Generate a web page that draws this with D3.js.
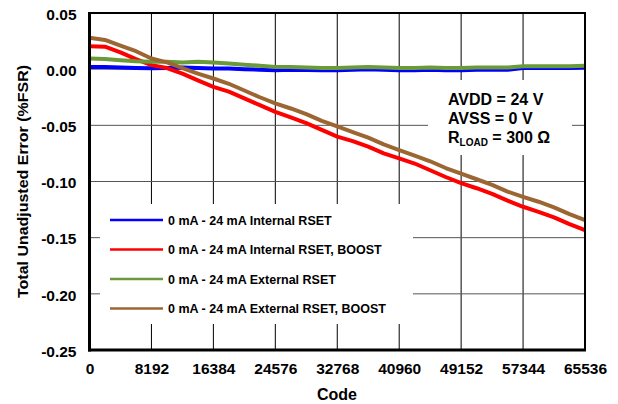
<!DOCTYPE html>
<html><head><meta charset="utf-8">
<script src="https://cdn.jsdelivr.net/npm/d3@7"></script>
<style>body{margin:0;background:#fff}svg text{font-family:"Liberation Sans",Arial,sans-serif;font-weight:bold;fill:#000}</style>
</head><body><svg id="c" width="618" height="404"></svg>
<script>
const codes = d3.range(0, 65537, 2048);
const xTicks = [0, 8192, 16384, 24576, 32768, 40960, 49152, 57344, 65536];
const yTicks = [0.05, 0.00, -0.05, -0.10, -0.15, -0.20, -0.25];
const seriesNames = ["0 mA - 24 mA Internal RSET", "0 mA - 24 mA Internal RSET, BOOST", "0 mA - 24 mA External RSET", "0 mA - 24 mA External RSET, BOOST"];
const seriesColors = ["#0000ff", "#ff0000", "#6a9a3a", "#9c6633"];
const internal = [0.002,0.002,0.0015,0.001,0.0008,0.001,0.0015,0.001,0.0005,0.0005,0.0,-0.0005,-0.001,-0.0005,-0.0008,-0.001,-0.001,-0.0005,0.0,-0.0005,-0.001,-0.001,-0.0005,-0.001,-0.001,-0.0005,-0.0005,-0.0005,0.001,0.001,0.001,0.001,0.0015];
const internalBoost = [0.0205,0.020,0.015,0.009,0.0036,0.001,-0.004,-0.010,-0.0157,-0.020,-0.026,-0.032,-0.038,-0.043,-0.048,-0.054,-0.060,-0.064,-0.069,-0.075,-0.0795,-0.084,-0.090,-0.096,-0.1015,-0.106,-0.111,-0.117,-0.1225,-0.127,-0.132,-0.138,-0.1433];
const external = [0.0095,0.009,0.008,0.007,0.0065,0.0065,0.006,0.0065,0.006,0.005,0.004,0.003,0.002,0.002,0.0015,0.001,0.001,0.0015,0.002,0.0015,0.001,0.001,0.0015,0.001,0.001,0.0015,0.0015,0.0015,0.0025,0.0025,0.0025,0.0025,0.003];
const externalBoost = [0.028,0.026,0.021,0.016,0.0095,0.006,0.001,-0.004,-0.0083,-0.013,-0.019,-0.025,-0.0305,-0.035,-0.040,-0.046,-0.051,-0.056,-0.061,-0.067,-0.072,-0.077,-0.082,-0.088,-0.093,-0.098,-0.103,-0.109,-0.1136,-0.118,-0.123,-0.129,-0.1344];
const seriesData = [internal, internalBoost, external, externalBoost];

const svg = d3.select("#c");
const L = 89.5, R = 585, T = 13, B = 350;
const x = d3.scaleLinear().domain([0, 65536]).range([L, R]);
const y = d3.scaleLinear().domain([-0.25, 0.05]).range([B, T]);

// grid
const g = svg.append("g");
g.selectAll("line.v").data(xTicks.slice(1, -1)).enter().append("line")
  .attr("x1", d => x(d)).attr("x2", d => x(d)).attr("y1", T).attr("y2", B)
  .attr("stroke", "#000").attr("stroke-width", 1);
g.selectAll("line.h").data(yTicks.slice(1, -1)).enter().append("line")
  .attr("x1", L).attr("x2", R).attr("y1", d => y(d)).attr("y2", d => y(d))
  .attr("stroke", "#555").attr("stroke-width", 1);

// white boxes
svg.append("rect").attr("x", 100).attr("y", 204).attr("width", 313).attr("height", 120).attr("fill", "#fff");
svg.append("rect").attr("x", 428).attr("y", 80).attr("width", 144).attr("height", 75).attr("fill", "#fff");

// lines
const line = d3.line().x((d, i) => x(codes[i])).y(d => y(d));
seriesData.forEach((s, k) => {
  svg.append("path").datum(s).attr("d", line).attr("fill", "none")
    .attr("stroke", seriesColors[k]).attr("stroke-width", 4).attr("stroke-linejoin", "round");
});

// frame
svg.append("rect").attr("x", L).attr("y", T).attr("width", R - L).attr("height", B - T)
  .attr("fill", "none").attr("stroke", "#000").attr("stroke-width", 2);
svg.append("line").attr("x1", L).attr("x2", L).attr("y1", T - 1).attr("y2", B + 1.5).attr("stroke", "#000").attr("stroke-width", 3);
svg.append("line").attr("x1", L - 1.5).attr("x2", R + 1).attr("y1", B).attr("y2", B).attr("stroke", "#000").attr("stroke-width", 3);

// axes labels
const fmtY = d => d3.format(".2f")(d).replace("\u2212", "-");
const xa = d3.axisBottom(x).tickValues(xTicks).tickFormat(d3.format("d")).tickSize(0).tickPadding(13);
const xg = svg.append("g").attr("transform", `translate(0,${B})`).call(xa);
const ya = d3.axisLeft(y).tickValues(yTicks).tickFormat(fmtY).tickSize(0).tickPadding(13);
const yg = svg.append("g").attr("transform", `translate(${L},0)`).call(ya);
[xg, yg].forEach(a => { a.select(".domain").remove(); a.selectAll("text").attr("font-size", 15.5).attr("font-family", "Liberation Sans, Arial, sans-serif").attr("font-weight", "bold").attr("fill", "#000"); });
yg.selectAll("text").attr("dy", "0.4em");

svg.append("text").attr("x", 337).attr("y", 400).attr("text-anchor", "middle").attr("font-size", 16).text("Code");
svg.append("text").attr("transform", `translate(28,181.5) rotate(-90)`).attr("text-anchor", "middle").attr("font-size", 14.5)
  .attr("textLength", 233).attr("lengthAdjust", "spacingAndGlyphs").text("Total Unadjusted Error (%FSR)");

// legend
const lg = svg.append("g");
seriesNames.forEach((n, k) => {
  const yy = 220 + k * 29.5;
  lg.append("line").attr("x1", 110).attr("x2", 163).attr("y1", yy).attr("y2", yy).attr("stroke", seriesColors[k]).attr("stroke-width", 2.5);
  lg.append("text").attr("x", 168).attr("y", yy + 4.5).attr("font-size", 12.5).text(n);
});

// annotation
const an = svg.append("g");
an.append("text").attr("x", 448).attr("y", 105).attr("font-size", 16).text("AVDD = 24 V");
an.append("text").attr("x", 448).attr("y", 124).attr("font-size", 16).text("AVSS = 0 V");
const t3 = an.append("text").attr("x", 448).attr("y", 143).attr("font-size", 16);
t3.append("tspan").text("R");
t3.append("tspan").attr("font-size", 10).attr("dy", 3).text("LOAD");
t3.append("tspan").attr("dy", -3).text(" = 300 Ω");
</script></body></html>
